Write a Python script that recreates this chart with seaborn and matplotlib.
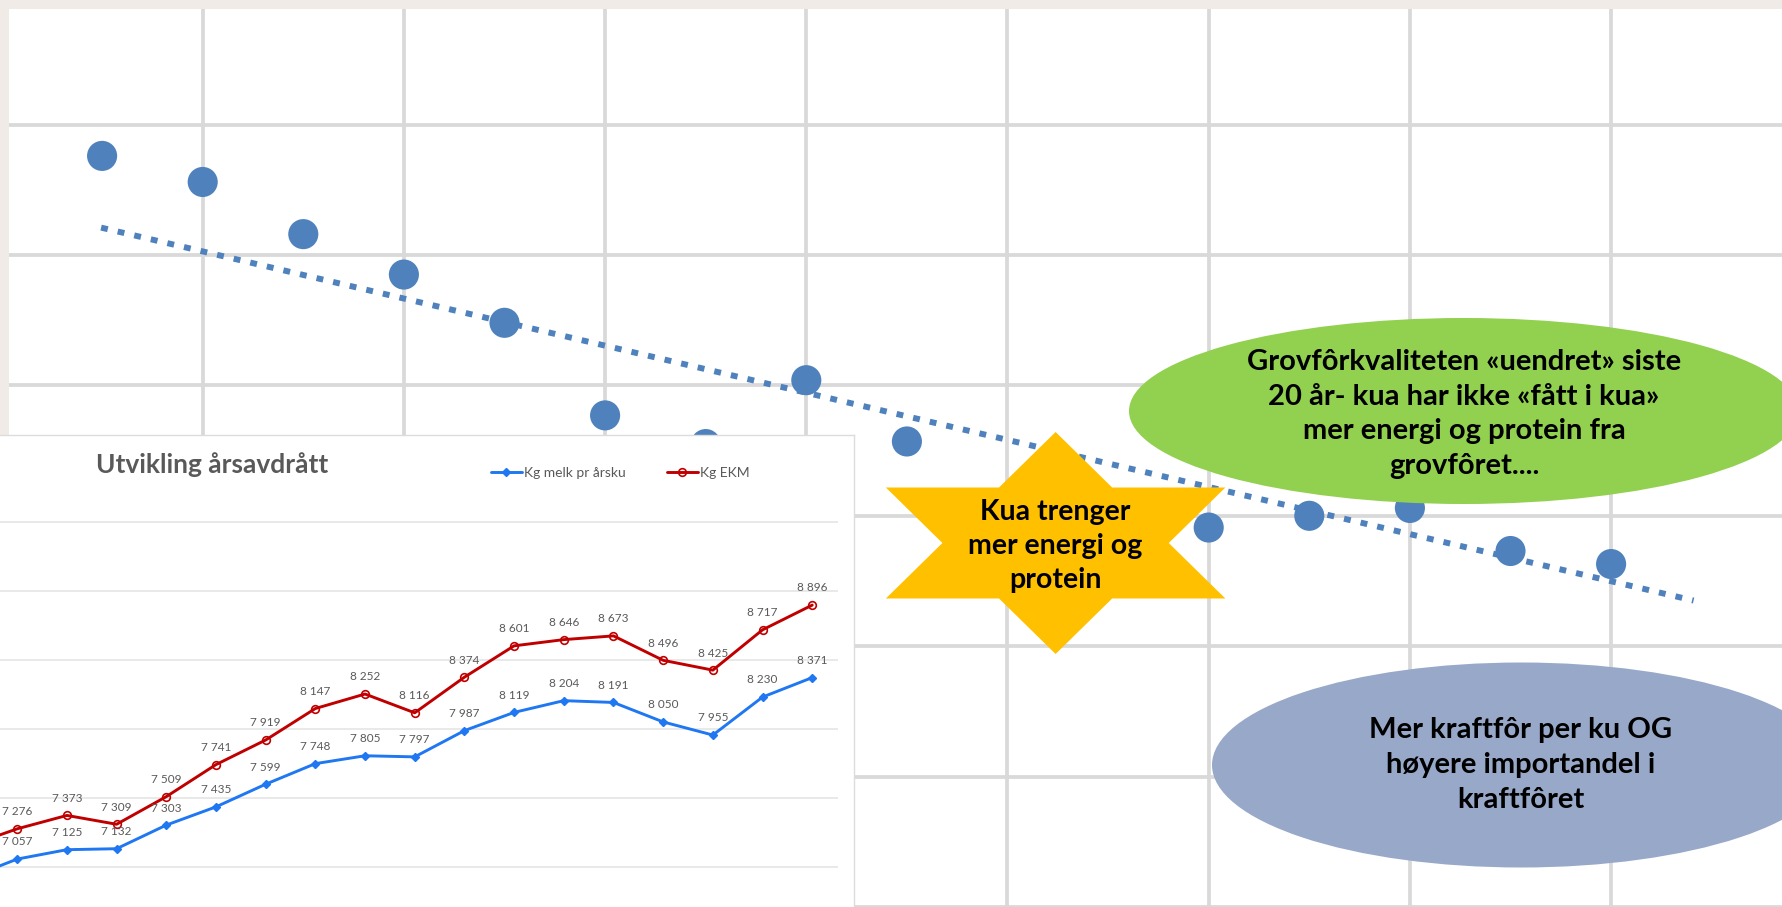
import matplotlib
matplotlib.use("Agg")
import matplotlib.pyplot as plt
from matplotlib.patches import Ellipse, Polygon
import numpy as np
import seaborn as sns

sns.set_theme(style="white")
plt.rcParams["font.family"] = ["Lato", "DejaVu Sans"]

# background scatter (grovfôr trend, no axis labels visible in the picture)
bg_x = list(range(1, 17))
bg_y = [5.76, 5.56, 5.16, 4.85, 4.48, 3.77, 3.55, 4.04, 3.57, 2.90, 2.80, 2.91, 3.00, 3.06, 2.73, 2.63]
trend_x = [0.99, 16.82]
trend_y = [5.21, 2.35]

# inset "Utvikling årsavdrått"
inset_pos = list(range(-1, 17))
kg_melk = [6917, 7057, 7125, 7132, 7303, 7435, 7599, 7748, 7805, 7797, 7987,
           8119, 8204, 8191, 8050, 7955, 8230, 8371]
kg_ekm = [7150, 7276, 7373, 7309, 7509, 7741, 7919, 8147, 8252, 8116, 8374,
          8601, 8646, 8673, 8496, 8425, 8717, 8896]

W, H = 1783, 907


def box(x0, y0, x1, y1):
    # pixel rect (from top-left) -> figure fraction
    return [x0 / W, 1 - y1 / H, (x1 - x0) / W, (y1 - y0) / H]


fig = plt.figure(figsize=(W / 100, H / 100), dpi=100, facecolor="#f0ebe6")

# --- background chart
ax = fig.add_axes(box(8.7, 8.7, W, H))
ax.set_facecolor("white")
ax.set_xlim((8.7 - 1.5) / 100.6, (W - 1.5) / 100.6)
ax.set_ylim(0, (H - 8.7) / 130.4)
ax.set_xticks(range(2, 18, 2))
ax.set_yticks(range(0, 7))
ax.grid(True, color="#d9d9d9", lw=2.7)
ax.tick_params(length=0, labelbottom=False, labelleft=False)
for s in ax.spines.values():
    s.set_visible(False)
sns.scatterplot(x=bg_x, y=bg_y, s=470, color="#4f81bd", edgecolor="none", ax=ax, zorder=3)
sns.lineplot(x=trend_x, y=trend_y, ax=ax, color="#4f81bd", lw=4.3,
             linestyle=(0, (1.15, 1.7)), dash_capstyle="butt", zorder=4)

# --- inset white box
ax_in = fig.add_axes(box(-3, 435, 853.6, H + 3))
ax_in.set_facecolor("white")
ax_in.set_xticks([])
ax_in.set_yticks([])
for k, s in ax_in.spines.items():
    s.set_color("#dcdcdc")
    s.set_linewidth(1)

ax_ln = fig.add_axes(box(0, 518.9, 838, H))
ax_ln.patch.set_alpha(0)
ax_ln.set_xlim((0 - 17.2) / 49.69, (838 - 17.2) / 49.69)
ax_ln.set_ylim(6710, 9520)
ax_ln.set_yticks(range(7000, 10000, 500))
ax_ln.grid(True, axis="y", color="#e3e3e3", lw=1.1)
ax_ln.tick_params(length=0, labelbottom=False, labelleft=False)
for s in ax_ln.spines.values():
    s.set_visible(False)

sns.lineplot(x=inset_pos, y=kg_melk, ax=ax_ln, color="#1f77f2", lw=2.1, marker="D",
             markersize=4.5, mec="#1f77f2", mew=1, label="Kg melk pr årsku")
sns.lineplot(x=inset_pos, y=kg_ekm, ax=ax_ln, color="#c00000", lw=2.1, marker="o",
             markersize=5.5, mfc="none", mec="#c00000", mew=1.2, label="Kg EKM")

for j, v in zip(inset_pos, kg_melk):
    ax_ln.annotate(f"{v:,}".replace(",", " "), (j, v), xytext=(0, 12.3), textcoords="offset points",
                   ha="center", va="center", fontsize=8.5, color="#595959")
for j, v in zip(inset_pos, kg_ekm):
    ax_ln.annotate(f"{v:,}".replace(",", " "), (j, v), xytext=(0, 12.3), textcoords="offset points",
                   ha="center", va="center", fontsize=8.5, color="#595959")

leg = ax_ln.legend(loc="center left", bbox_to_anchor=(491 / W, 1 - 473 / H),
                   bbox_transform=fig.transFigure, ncol=2, frameon=False, fontsize=10,
                   handlelength=2.2, handletextpad=0.15, columnspacing=3.0,
                   borderaxespad=0, borderpad=0)
for t in leg.get_texts():
    t.set_color("#595959")

fig.text(212 / W, 1 - 465 / H, "Utvikling årsavdrått", ha="center", va="center",
         fontsize=19, fontweight="bold", color="#595959")

# --- callouts on top
ov = fig.add_axes([0, 0, 1, 1])
ov.set_xlim(0, W)
ov.set_ylim(H, 0)
ov.axis("off")

ang = np.deg2rad(90 + 30 * np.arange(12))
rad = np.where(np.arange(12) % 2 == 0, 1.0, 1 / np.sqrt(3))
star = np.column_stack([1055.6 + 196 * rad * np.cos(ang), 543 - 111 * rad * np.sin(ang)])
ov.add_patch(Polygon(star, closed=True, fc="#ffc000", ec="none"))
ov.add_patch(Ellipse((1464, 411), 670, 186, fc="#92d050", ec="none"))
ov.add_patch(Ellipse((1521, 765), 618, 205, fc="#98a8c8", ec="none"))

ov.text(1055.6, 546, "Kua trenger\nmer energi og\nprotein", ha="center", va="center",
        fontsize=20.5, linespacing=1.36, fontweight="bold", color="black")
ov.text(1464, 414, "Grovfôrkvaliteten «uendret» siste\n20 år- kua har ikke «fått i kua»\n"
        "mer energi og protein fra\ngrovfôret....", ha="center", va="center",
        fontsize=21, linespacing=1.42, fontweight="bold", color="black")
ov.text(1521, 765, "Mer kraftfôr per ku OG\nhøyere importandel i\nkraftfôret", ha="center",
        va="center", fontsize=21, linespacing=1.42, fontweight="bold", color="black")

fig.savefig("out.png", dpi=100, facecolor=fig.get_facecolor())
